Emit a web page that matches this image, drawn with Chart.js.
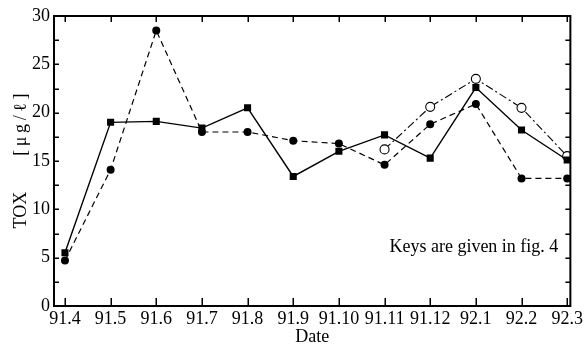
<!DOCTYPE html>
<html>
<head>
<meta charset="utf-8">
<script src="https://cdn.jsdelivr.net/npm/chart.js@4.4.0/dist/chart.umd.min.js"></script>
<style>
html,body{margin:0;padding:0;background:#fff;}
#wrap{width:585px;height:350px;position:relative;}
</style>
</head>
<body>
<div id="wrap"><canvas id="c" width="585" height="350"></canvas></div>
<script>
const dates = ['91.4','91.5','91.6','91.7','91.8','91.9','91.10','91.11','91.12','92.1','92.2','92.3'];
const squareSeries = [5.5, 19.0, 19.1, 18.4, 20.5, 13.4, 16.0, 17.7, 15.3, 22.6, 18.2, 15.1];
const filledCircleSeries = [4.7, 14.1, 28.5, 18.0, 18.0, 17.1, 16.8, 14.6, 18.8, 20.9, 13.2, 13.2];
const openCircleSeries = [null, null, null, null, null, null, null, 16.2, 20.6, 23.5, 20.5, 15.5];
const yTickLabels = [0, 5, 10, 15, 20, 25, 30];
const yTitle = 'TOX\u2003\u2003[\u2009\u03bc\u2009g\u2009/\u2009\u2113\u2009]';
const xTitle = 'Date';
const noteText = 'Keys are given in fig. 4';

const toPts = arr => arr.map((v, i) => ({x: i, y: v})).filter(p => p.y !== null);
const FONT = "'Liberation Serif', 'Times New Roman', serif";

const frameTicks = {
  id: 'frameTicks',
  afterDraw(chart) {
    const ctx = chart.ctx;
    const a = chart.chartArea;
    const xs = chart.scales.x, ys = chart.scales.y;
    ctx.save();
    ctx.setLineDash([]);
    ctx.strokeStyle = '#000';
    ctx.fillStyle = '#000';
    for (let i = 0; i < dates.length; i++) {
      const px = Math.round(xs.getPixelForValue(i));
      ctx.fillRect(px - 0.5, a.bottom - 8, 1.5, 8);
      ctx.fillRect(px - 0.5, a.top, 1.5, 6);
    }
    for (let v = 0; v <= 30; v += 2.5) {
      const py = Math.round(ys.getPixelForValue(v));
      ctx.fillRect(a.left, py - 0.5, 5, 1.5);
      ctx.fillRect(a.right - 5, py - 0.5, 5, 1.5);
    }
    ctx.lineWidth = 2;
    ctx.strokeRect(a.left, a.top, a.right - a.left, a.bottom - a.top);
    ctx.font = "18px " + FONT;
    ctx.textAlign = 'right';
    ctx.textBaseline = 'middle';
    ctx.fillText(noteText, a.right - 12, ys.getPixelForValue(6.1));
    ctx.restore();
  }
};

new Chart(document.getElementById('c'), {
  type: 'line',
  data: {
    datasets: [
      {
        data: toPts(squareSeries),
        borderColor: '#000', borderWidth: 1.4,
        pointStyle: 'rect', pointRadius: 5, pointBackgroundColor: '#000', pointBorderColor: '#000', pointBorderWidth: 0,
        tension: 0
      },
      {
        data: toPts(filledCircleSeries),
        borderColor: '#000', borderWidth: 1.2, borderDash: [6, 4],
        pointStyle: 'circle', pointRadius: 4, pointBackgroundColor: '#000', pointBorderColor: '#000', pointBorderWidth: 0,
        tension: 0
      },
      {
        data: toPts(openCircleSeries),
        borderColor: '#000', borderWidth: 1.1, borderDash: [8, 3, 2, 3],
        pointStyle: 'circle', pointRadius: 4.5, pointBackgroundColor: '#fff', pointBorderColor: '#000', pointBorderWidth: 1.1,
        tension: 0
      }
    ]
  },
  options: {
    responsive: false,
    animation: false,
    layout: {padding: {left: 0, right: 13, top: 16, bottom: 0}},
    plugins: {legend: {display: false}, tooltip: {enabled: false}},
    scales: {
      x: {
        type: 'linear', min: -0.24, max: 11.07,
        afterBuildTicks: s => { s.ticks = dates.map((d, i) => ({value: i})); },
        afterFit: s => { s.height = 44; },
        grid: {display: false, drawTicks: false},
        border: {display: false},
        ticks: {
          padding: 2, color: '#000', maxRotation: 0, autoSkip: false,
          font: {family: FONT, size: 18},
          callback: v => dates[v]
        },
        title: {display: true, text: xTitle, color: '#000', font: {family: FONT, size: 18}, padding: {top: 0, bottom: 2}}
      },
      y: {
        min: 0, max: 30,
        afterBuildTicks: s => { const t = []; for (let v = 0; v <= 30; v += 2.5) t.push({value: v}); s.ticks = t; },
        afterFit: s => { s.width = 54; },
        grid: {display: false, drawTicks: false},
        border: {display: false},
        ticks: {
          padding: 4, color: '#000',
          font: {family: FONT, size: 18},
          callback: v => yTickLabels.includes(v) ? String(v) : ''
        },
        title: {display: true, text: yTitle, color: '#000', font: {family: FONT, size: 18}, padding: {top: 10, bottom: 0}}
      }
    }
  },
  plugins: [frameTicks]
});
</script>
</body>
</html>
